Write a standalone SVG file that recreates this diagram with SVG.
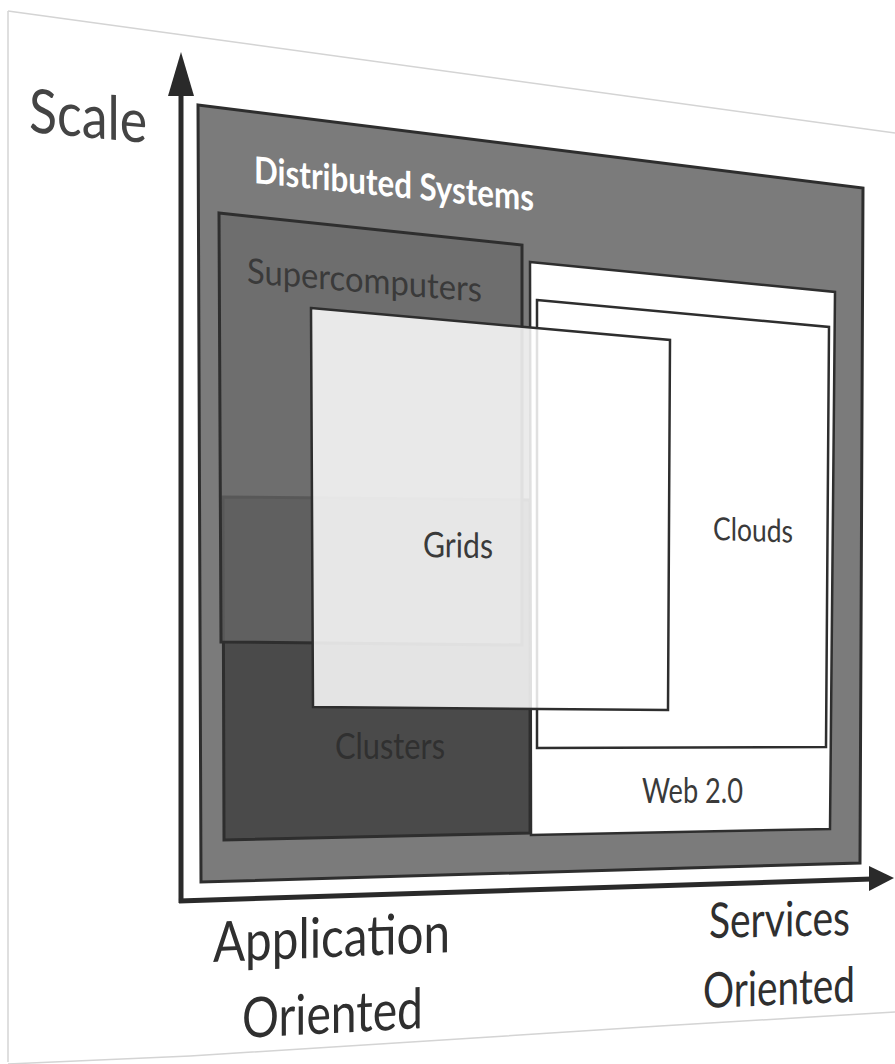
<svg xmlns="http://www.w3.org/2000/svg" width="895" height="1064" viewBox="0 0 895 1064">
  <style>
    .lbl { font-family: Lato, "Open Sans", "Liberation Sans", sans-serif; }
    .box { stroke: #2e2e2e; stroke-width: 3; stroke-linejoin: miter; }
    .wbox { fill: #ffffff; stroke: #2e2e2e; stroke-width: 2.5; }
    .axis { stroke: #2a2a2a; stroke-width: 5; fill: none; }
    .page { stroke: #d4d4d4; stroke-width: 1.5; fill: none; }
    .dark { fill: #3a3a3a; }
    .axlbl { fill: #2f2f2f; }
  </style>

  <rect x="0" y="0" width="895" height="1064" fill="#ffffff"/>

  <!-- sheet edges -->
  <g id="sheet">
    <line class="page" x1="8" y1="11" x2="8" y2="1062"/>
    <line class="page" x1="8" y1="11" x2="895" y2="133" stroke="#e6e6e6"/>
    <polyline class="page" points="8,1064 190,1056 490,1037 660,1026 895,1012"/>
  </g>

  <!-- outer region -->
  <g id="distributed-systems">
    <polygon class="box" points="198,105 863,188 860,863 201,882" fill="#7b7b7b"/>
    <g transform="translate(254,183) skewY(5.7)">
      <text class="lbl" x="0" y="0" font-size="37" font-weight="700" fill="#ffffff" textLength="280" lengthAdjust="spacingAndGlyphs">Distributed Systems</text>
    </g>
  </g>

  <g id="clusters">
    <polygon class="box" points="223,497 530,500 530,833 224,840" fill="#4a4a4a"/>
    <text class="lbl" x="335" y="759" font-size="37" fill="#303030" textLength="110" lengthAdjust="spacingAndGlyphs">Clusters</text>
  </g>

  <g id="supercomputers">
    <polygon class="box" points="219,213 522,245 522,645 221,642" fill="#696969" fill-opacity="0.72"/>
    <g transform="translate(247,283) skewY(4.6)">
      <text class="lbl dark" x="0" y="0" font-size="35" textLength="235" lengthAdjust="spacingAndGlyphs">Supercomputers</text>
    </g>
  </g>

  <g id="web20">
    <polygon class="wbox" points="530,262 835,292 830,829 531,835"/>
    <text class="lbl dark" x="642" y="803" font-size="35" textLength="101" lengthAdjust="spacingAndGlyphs">Web 2.0</text>
  </g>

  <g id="clouds">
    <polygon class="wbox" points="537,300 829,327 826,747 537,748"/>
    <g transform="translate(713,540) skewY(1.8)">
      <text class="lbl dark" x="0" y="0" font-size="32" textLength="80" lengthAdjust="spacingAndGlyphs">Clouds</text>
    </g>
  </g>

  <g id="grids">
    <polygon class="wbox" points="311,308 670,340 668,710 313,707" fill-opacity="0.85"/>
    <g transform="translate(423,557) skewY(0.9)">
      <text class="lbl dark" x="0" y="0" font-size="35" textLength="70" lengthAdjust="spacingAndGlyphs">Grids</text>
    </g>
  </g>

  <!-- axes -->
  <g id="connectors">
    <line class="axis" x1="181" y1="903" x2="181" y2="92"/>
    <polygon points="181,52 168,96 194,96" fill="#2a2a2a"/>
    <line class="axis" x1="179" y1="901" x2="872" y2="879"/>
    <polygon points="894,878 869,866 869,891" fill="#2a2a2a"/>
  </g>

  <g id="axis-labels">
    <g transform="translate(29,132) skewY(5.3)">
      <text class="lbl" x="0" y="0" font-size="61" fill="#444444" textLength="118" lengthAdjust="spacingAndGlyphs">Scale</text>
    </g>
    <g transform="translate(213,962) skewY(-2.4)">
      <text class="lbl axlbl" x="0" y="0" font-size="56" textLength="237" lengthAdjust="spacingAndGlyphs">Application</text>
    </g>
    <g transform="translate(242,1038) skewY(-3.1)">
      <text class="lbl axlbl" x="0" y="0" font-size="56" textLength="181" lengthAdjust="spacingAndGlyphs">Oriented</text>
    </g>
    <g transform="translate(709,938) skewY(-1.2)">
      <text class="lbl axlbl" x="0" y="0" font-size="49" textLength="141" lengthAdjust="spacingAndGlyphs">Services</text>
    </g>
    <g transform="translate(703,1008) skewY(-2.3)">
      <text class="lbl axlbl" x="0" y="0" font-size="49" textLength="152" lengthAdjust="spacingAndGlyphs">Oriented</text>
    </g>
  </g>
</svg>
